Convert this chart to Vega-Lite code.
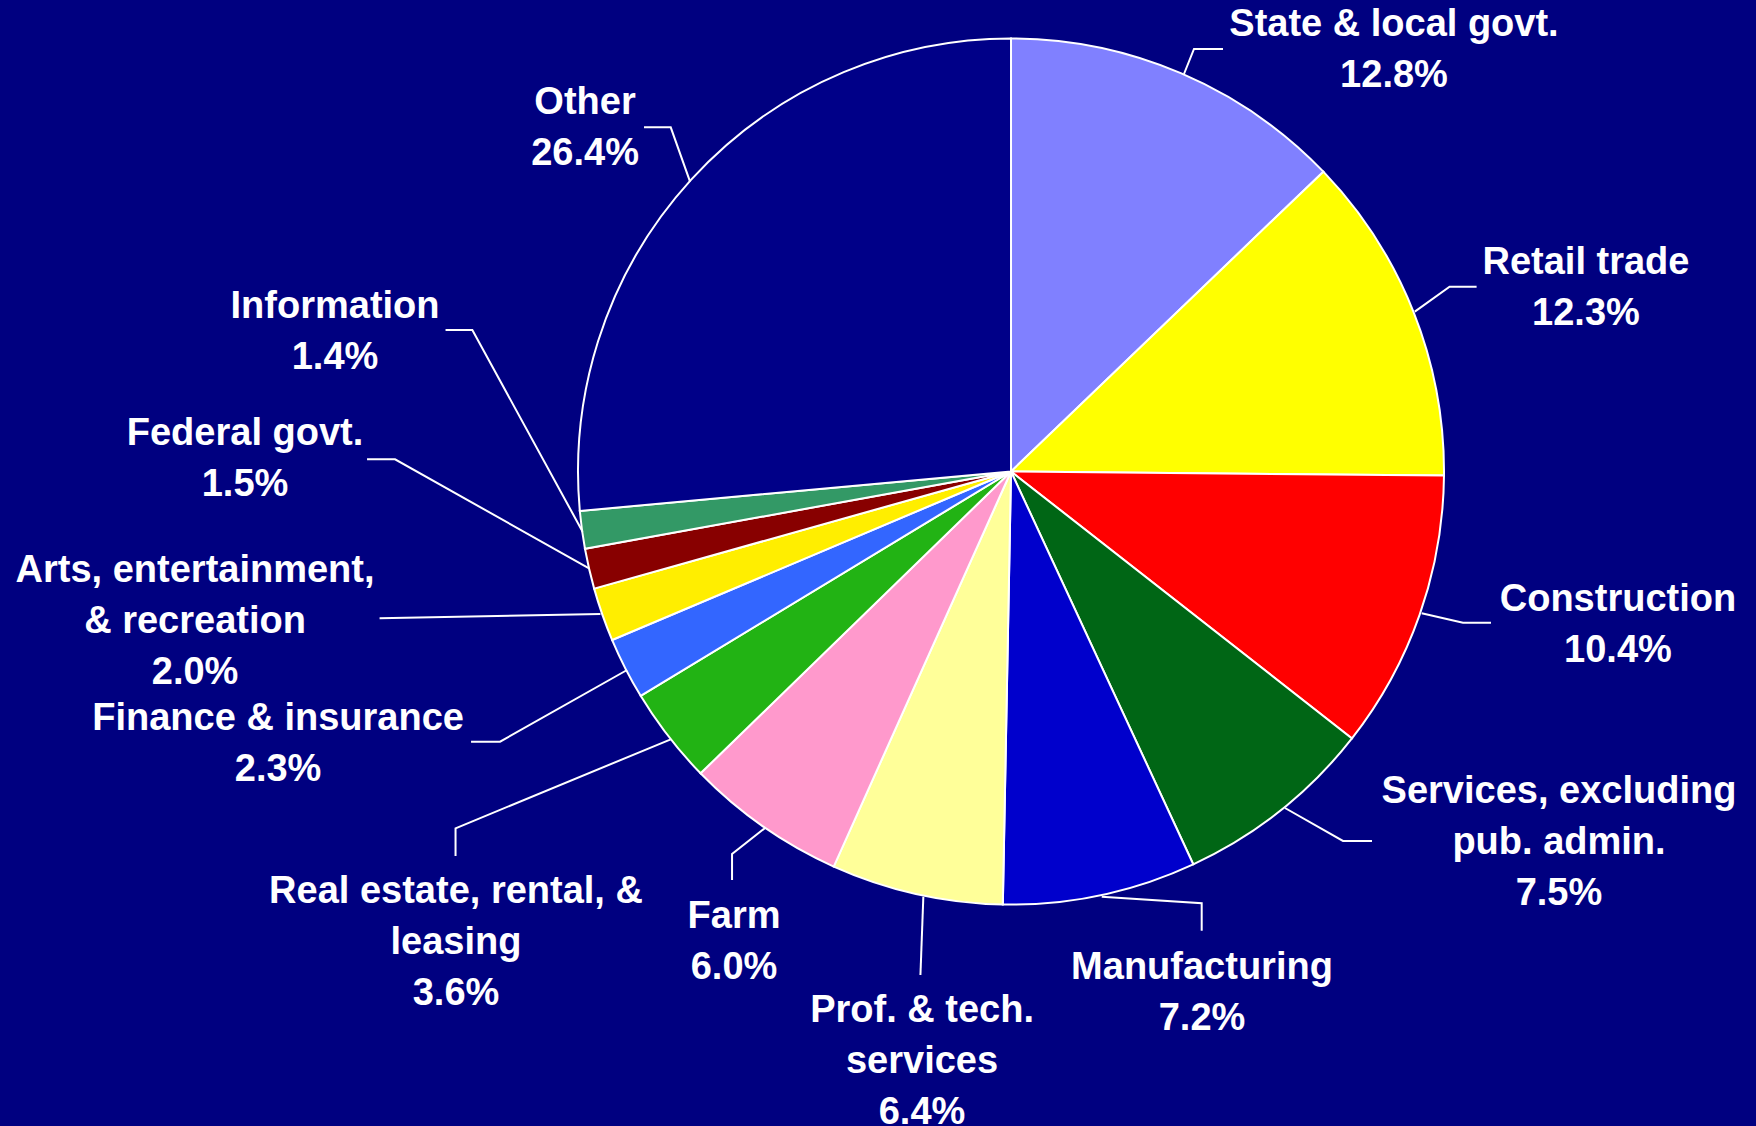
{
  "$schema": "https://vega.github.io/schema/vega-lite/v6.json",
  "width": 1756,
  "height": 1126,
  "autosize": "none",
  "padding": 0,
  "background": "#000080",
  "config": {"view": {"stroke": null}},
  "datasets": {
    "sectors": [
      {"sector": "State & local govt.", "share": 12.8, "idx": 1, "tx": 88.45, "ty": 103.88, "label": "State & local govt.\n12.8%"},
      {"sector": "Retail trade", "share": 12.3, "idx": 2, "tx": 132.79, "ty": 48.85, "label": "Retail trade\n12.3%"},
      {"sector": "Construction", "share": 10.4, "idx": 3, "tx": 140.18, "ty": -28.9, "label": "Construction\n10.4%"},
      {"sector": "Services, excluding pub. admin.", "share": 7.5, "idx": 4, "tx": 126.56, "ty": -73.4, "label": "Services, excluding\npub. admin.\n7.5%"},
      {"sector": "Manufacturing", "share": 7.2, "idx": 5, "tx": 44.11, "ty": -113.97, "label": "Manufacturing\n7.2%"},
      {"sector": "Prof. & tech. services", "share": 6.4, "idx": 6, "tx": -20.55, "ty": -123.85, "label": "Prof. & tech.\nservices\n6.4%"},
      {"sector": "Farm", "share": 6.0, "idx": 7, "tx": -63.97, "ty": -102.1, "label": "Farm\n6.0%"},
      {"sector": "Real estate, rental, & leasing", "share": 3.6, "idx": 8, "tx": -128.18, "ty": -96.5, "label": "Real estate, rental, &\nleasing\n3.6%"},
      {"sector": "Finance & insurance", "share": 2.3, "idx": 9, "tx": -169.28, "ty": -56.5, "label": "Finance & insurance\n2.3%"},
      {"sector": "Arts, entertainment, & recreation", "share": 2.0, "idx": 10, "tx": -188.45, "ty": -22.2, "label": "Arts, entertainment,\n& recreation\n2.0%"},
      {"sector": "Federal govt.", "share": 1.5, "idx": 11, "tx": -176.91, "ty": 9.35, "label": "Federal govt.\n1.5%"},
      {"sector": "Information", "share": 1.4, "idx": 12, "tx": -156.12, "ty": 38.6, "label": "Information\n1.4%"},
      {"sector": "Other", "share": 26.4, "idx": 13, "tx": -98.38, "ty": 85.7, "label": "Other\n26.4%"}
    ],
    "leaders": [
      {"sector": "State & local govt.", "step": 1, "lx": 48.96, "ly": 97.58},
      {"sector": "State & local govt.", "step": 2, "lx": 42.26, "ly": 97.58},
      {"sector": "State & local govt.", "step": 3, "lx": 39.95, "ly": 91.8},
      {"sector": "Retail trade", "step": 1, "lx": 107.53, "ly": 42.68},
      {"sector": "Retail trade", "step": 2, "lx": 101.29, "ly": 42.68},
      {"sector": "Retail trade", "step": 3, "lx": 93.26, "ly": 36.91},
      {"sector": "Construction", "step": 1, "lx": 110.85, "ly": -34.92},
      {"sector": "Construction", "step": 2, "lx": 104.39, "ly": -34.92},
      {"sector": "Construction", "step": 3, "lx": 94.85, "ly": -32.75},
      {"sector": "Services, excluding pub. admin.", "step": 1, "lx": 83.37, "ly": -85.33},
      {"sector": "Services, excluding pub. admin.", "step": 2, "lx": 76.67, "ly": -85.33},
      {"sector": "Services, excluding pub. admin.", "step": 3, "lx": 63.28, "ly": -77.71},
      {"sector": "Manufacturing", "step": 1, "lx": 44.04, "ly": -106.05},
      {"sector": "Manufacturing", "step": 2, "lx": 44.04, "ly": -99.72},
      {"sector": "Manufacturing", "step": 3, "lx": 20.95, "ly": -98.2},
      {"sector": "Prof. & tech. services", "step": 1, "lx": -20.92, "ly": -116.28},
      {"sector": "Prof. & tech. services", "step": 2, "lx": -20.25, "ly": -98.2},
      {"sector": "Farm", "step": 1, "lx": -64.43, "ly": -94.34},
      {"sector": "Farm", "step": 2, "lx": -64.43, "ly": -88.34},
      {"sector": "Farm", "step": 3, "lx": -56.72, "ly": -82.26},
      {"sector": "Real estate, rental, & leasing", "step": 1, "lx": -128.29, "ly": -88.8},
      {"sector": "Real estate, rental, & leasing", "step": 2, "lx": -128.29, "ly": -82.4},
      {"sector": "Real estate, rental, & leasing", "step": 3, "lx": -78.59, "ly": -61.85},
      {"sector": "Finance & insurance", "step": 1, "lx": -124.71, "ly": -62.4},
      {"sector": "Finance & insurance", "step": 2, "lx": -118.01, "ly": -62.4},
      {"sector": "Finance & insurance", "step": 3, "lx": -88.68, "ly": -45.84},
      {"sector": "Arts, entertainment, & recreation", "step": 1, "lx": -145.84, "ly": -33.9},
      {"sector": "Arts, entertainment, & recreation", "step": 2, "lx": -94.83, "ly": -32.91},
      {"sector": "Federal govt.", "step": 1, "lx": -148.73, "ly": 2.82},
      {"sector": "Federal govt.", "step": 2, "lx": -142.26, "ly": 2.82},
      {"sector": "Federal govt.", "step": 3, "lx": -97.46, "ly": -22.36},
      {"sector": "Information", "step": 1, "lx": -130.6, "ly": 32.68},
      {"sector": "Information", "step": 2, "lx": -124.41, "ly": 32.68},
      {"sector": "Information", "step": 3, "lx": -98.94, "ly": -13.9},
      {"sector": "Other", "step": 1, "lx": -84.76, "ly": 79.49},
      {"sector": "Other", "step": 2, "lx": -78.59, "ly": 79.49},
      {"sector": "Other", "step": 3, "lx": -74.13, "ly": 66.93}
    ]
  },
  "layer": [
    {
      "data": {"name": "sectors"},
      "mark": {"type": "arc", "outerRadius": 433, "stroke": "#FFFFFF", "strokeWidth": 2},
      "encoding": {
        "theta": {"field": "share", "type": "quantitative", "stack": true},
        "order": {"field": "idx", "type": "quantitative"},
        "color": {
          "field": "sector", "type": "nominal", "legend": null,
          "scale": {
            "domain": ["State & local govt.", "Retail trade", "Construction", "Services, excluding pub. admin.", "Manufacturing", "Prof. & tech. services", "Farm", "Real estate, rental, & leasing", "Finance & insurance", "Arts, entertainment, & recreation", "Federal govt.", "Information", "Other"],
            "range": ["#8080FF", "#FFFF00", "#FF0000", "#006615", "#0000CC", "#FFFF99", "#FF99CC", "#22B314", "#3366FF", "#FFEE00", "#880000", "#339966", "#000088"]
          }
        },
        "x": {"datum": 0, "type": "quantitative", "scale": {"domain": [-233.5, 172.06], "nice": false, "zero": false}, "axis": null},
        "y": {"datum": 0, "type": "quantitative", "scale": {"domain": [-151.15, 108.89], "nice": false, "zero": false}, "axis": null}
      }
    },
    {
      "data": {"name": "leaders"},
      "mark": {"type": "line", "color": "#FFFFFF", "strokeWidth": 2},
      "encoding": {
        "x": {"field": "lx", "type": "quantitative", "scale": {"domain": [-233.5, 172.06], "nice": false, "zero": false}, "axis": null},
        "y": {"field": "ly", "type": "quantitative", "scale": {"domain": [-151.15, 108.89], "nice": false, "zero": false}, "axis": null},
        "detail": {"field": "sector", "type": "nominal"},
        "order": {"field": "step", "type": "quantitative"}
      }
    },
    {
      "data": {"name": "sectors"},
      "mark": {"type": "text", "font": "Liberation Sans", "fontWeight": "bold", "fontSize": 38, "color": "#FFFFFF", "align": "center", "baseline": "alphabetic", "dy": 14, "lineBreak": "\n", "lineHeight": 51},
      "encoding": {
        "x": {"field": "tx", "type": "quantitative", "scale": {"domain": [-233.5, 172.06], "nice": false, "zero": false}, "axis": null},
        "y": {"field": "ty", "type": "quantitative", "scale": {"domain": [-151.15, 108.89], "nice": false, "zero": false}, "axis": null},
        "text": {"field": "label", "type": "nominal"}
      }
    }
  ]
}
